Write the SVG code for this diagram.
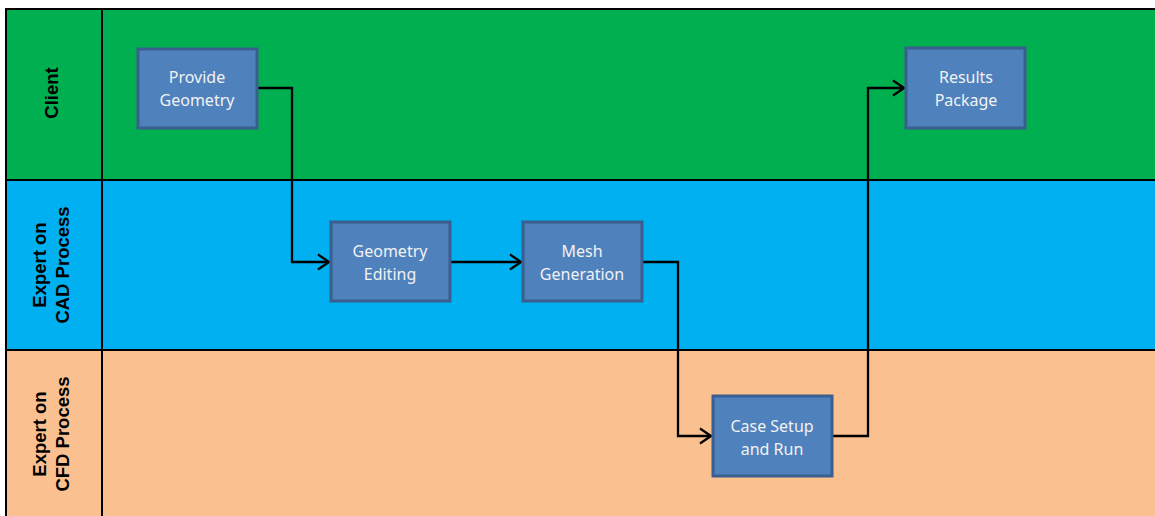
<svg xmlns="http://www.w3.org/2000/svg" width="1155" height="516" viewBox="0 0 1155 516">
<defs>
<style>
.lane{stroke:#000;stroke-width:2}
.lbl{font-family:"Liberation Sans",Arial,sans-serif;font-weight:bold;font-size:18.5px;fill:#000;text-anchor:middle}
.box{fill:#4f81bd;stroke:#3a5f8f;stroke-width:3}
.bt{font-family:"Noto Sans","Open Sans",sans-serif;font-size:16px;fill:#f2f2f2;text-anchor:middle}
.conn{fill:none;stroke:#000;stroke-width:2.3}
</style>
<marker id="arr" viewBox="0 0 13 18" refX="12" refY="9" markerWidth="13" markerHeight="18" markerUnits="userSpaceOnUse" orient="auto">
<path d="M1,1.5 L12,9 L1,16.5" fill="none" stroke="#000" stroke-width="2.3"/>
</marker>
</defs>
<rect width="1155" height="516" fill="#fff"/>
<g id="lanes">
<rect class="lane" x="6" y="9" width="1160" height="171" fill="#00b050"/>
<rect class="lane" x="6" y="180" width="1160" height="170" fill="#00b0f0"/>
<rect class="lane" x="6" y="350" width="1160" height="180" fill="#fac090"/>
<line class="lane" x1="102" y1="9" x2="102" y2="520"/>
</g>
<g id="lane-labels">
<text class="lbl" transform="translate(58,93) rotate(-90)">Client</text>
<text class="lbl" transform="translate(46,265) rotate(-90)">Expert on</text>
<text class="lbl" transform="translate(69,265) rotate(-90)">CAD Process</text>
<text class="lbl" transform="translate(46,434) rotate(-90)">Expert on</text>
<text class="lbl" transform="translate(69,434) rotate(-90)">CFD Process</text>
</g>
<g id="connectors">
<polyline class="conn" points="257,88 292,88 292,262 329,262" marker-end="url(#arr)"/>
<polyline class="conn" points="450,262 521,262" marker-end="url(#arr)"/>
<polyline class="conn" points="642,262 678,262 678,436 711,436" marker-end="url(#arr)"/>
<polyline class="conn" points="833,436 868,436 868,88 904,88" marker-end="url(#arr)"/>
</g>
<g id="provide-geometry">
<rect class="box" x="138" y="49" width="119" height="79"/>
<text class="bt" x="197" y="83">Provide</text>
<text class="bt" x="197" y="106">Geometry</text>
</g>
<g id="geometry-editing">
<rect class="box" x="331" y="222" width="119" height="79"/>
<text class="bt" x="390" y="257">Geometry</text>
<text class="bt" x="390" y="280">Editing</text>
</g>
<g id="mesh-generation">
<rect class="box" x="523" y="222" width="119" height="79"/>
<text class="bt" x="582" y="257">Mesh</text>
<text class="bt" x="582" y="280">Generation</text>
</g>
<g id="case-setup">
<rect class="box" x="713" y="396" width="119" height="80"/>
<text class="bt" x="772" y="432">Case Setup</text>
<text class="bt" x="772" y="455">and Run</text>
</g>
<g id="results-package">
<rect class="box" x="906" y="48" width="119" height="80"/>
<text class="bt" x="966" y="83">Results</text>
<text class="bt" x="966" y="106">Package</text>
</g>
</svg>
